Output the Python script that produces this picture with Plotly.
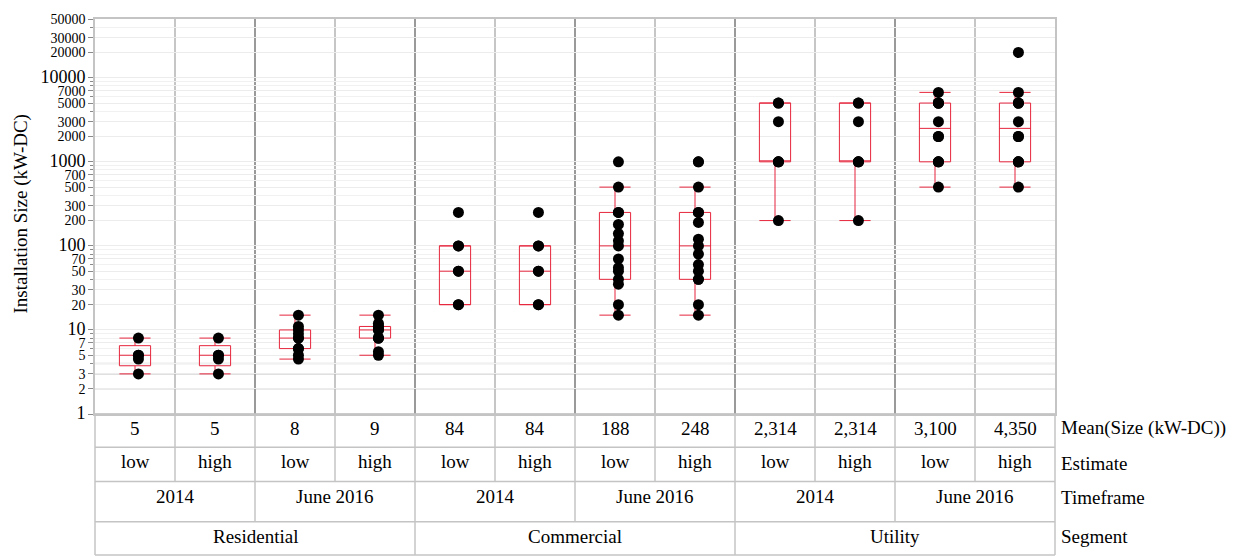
import numpy as np
import plotly.graph_objects as go

# ---- data -------------------------------------------------------------
segments = ["Residential", "Commercial", "Utility"]
timeframes = ["2014", "June 2016"]
estimates = ["low", "high"]

# Installation sizes (kW-DC); per segment: 2014 low, 2014 high, June 2016 low, June 2016 high
residential = [
    [3, 4.5, 5, 5, 8],
    [3, 4.5, 5, 5, 8],
    [4.5, 5, 6, 6, 8, 8, 9, 10, 11, 15],
    [5, 5.5, 8, 8, 8, 10, 10, 11, 11, 12, 15],
]
commercial = [
    [20, 20, 50, 50, 100, 100, 250],
    [20, 20, 50, 50, 100, 100, 250],
    [15, 20, 35, 40, 50, 55, 70, 100, 115, 140, 180, 250, 250, 500, 1000],
    [15, 20, 40, 40, 50, 60, 80, 100, 120, 190, 250, 250, 500, 1000, 1000],
]
utility = [
    [200, 1000, 1000, 1000, 3000, 5000, 5000],
    [200, 1000, 1000, 1000, 3000, 5000, 5000],
    [500, 1000, 1000, 1000, 2000, 2000, 3000, 5000, 5000, 5000, 5000, 6700],
    [500, 1000, 1000, 1000, 2000, 2000, 3000, 5000, 5000, 5000, 6700, 20000],
]

y_tickvals = [1, 2, 3, 5, 7, 10, 20, 30, 50, 70, 100, 200, 300, 500, 700,
              1000, 2000, 3000, 5000, 7000, 10000, 20000, 30000, 50000]
y_minor_tickvals = [4, 6, 8, 9, 40, 60, 80, 90, 400, 600, 800, 900,
                    4000, 6000, 8000, 9000, 40000]
decades = [1, 10, 100, 1000, 10000]
y_max = 50000

# ---- layout constants --------------------------------------------------
W, H = 1238, 557
ML, MR, MT, MB = 95, 183, 16, 143
PH = H - MT - MB
FONT = "Liberation Serif, Times New Roman, DejaVu Serif, serif"
RED = "#E6253C"
TABLE_LINE = "#c4c4c4"


def py(px):
    """pixel row -> paper y"""
    return (MT + PH - px) / PH


def px_x(px):
    """pixel column -> paper x"""
    return (px - ML) / (W - ML - MR)


# ---- assemble columns --------------------------------------------------
groups = [residential, commercial, utility]
xs, ys, col_seg, col_tf, col_est, col_mean = [], [], [], [], [], []
col = 0
for seg, vals in zip(segments, groups):
    k = 0
    for tf in timeframes:
        for est in estimates:
            v = vals[k]
            xs += [col] * len(v)
            ys += v
            col_seg.append(seg)
            col_tf.append(tf)
            col_est.append(est)
            col_mean.append(f"{np.mean(v):,.0f}")
            k += 1
            col += 1
ncol = col

fig = go.Figure()
fig.add_trace(go.Box(
    x=xs, y=ys,
    quartilemethod="exclusive",
    boxpoints="all", jitter=0, pointpos=0.22,
    width=0.39, whiskerwidth=1,
    fillcolor="rgba(0,0,0,0)",
    line=dict(color=RED, width=1),
    marker=dict(color="black", size=11, line=dict(width=0)),
    showlegend=False, hoverinfo="y",
))

shapes = []
# decade gridlines, slightly stronger than the minor grid
for d in decades:
    shapes.append(dict(type="line", xref="paper", yref="y", x0=0, x1=1,
                       y0=np.log10(d), y1=np.log10(d), layer="between",
                       line=dict(color="#d6d6d6", width=1.5)))

# column dividers inside the plot
for b in range(1, ncol):
    major = col_tf[b] != col_tf[b - 1] or col_seg[b] != col_seg[b - 1]
    shapes.append(dict(type="line", xref="x", yref="paper", x0=b - 0.5, x1=b - 0.5,
                       y0=0, y1=1, layer="between",
                       line=dict(color="#9a9a9a" if major else "#b3b3b3",
                                 width=2 if major else 1.5)))

# table below the plot
row_lines = [414, 447.5, 482, 522.5, 556]
for r in row_lines:
    shapes.append(dict(type="line", xref="paper", yref="paper", x0=0, x1=1,
                       y0=py(r), y1=py(r), line=dict(color=TABLE_LINE, width=1.5)))
for edge in (0, 1):
    shapes.append(dict(type="line", xref="paper", yref="paper", x0=edge, x1=edge,
                       y0=py(row_lines[0]), y1=py(row_lines[-1]),
                       line=dict(color=TABLE_LINE, width=1.5)))
for b in range(1, ncol):
    if col_seg[b] != col_seg[b - 1]:
        bottom = row_lines[4]
    elif col_tf[b] != col_tf[b - 1]:
        bottom = row_lines[3]
    else:
        bottom = row_lines[2]
    shapes.append(dict(type="line", xref="x", yref="paper", x0=b - 0.5, x1=b - 0.5,
                       y0=py(row_lines[0]), y1=py(bottom),
                       line=dict(color=TABLE_LINE, width=1.5)))

annotations = []
tfont = dict(family=FONT, size=19, color="black")
for i in range(ncol):
    annotations.append(dict(x=i, y=py(428.5), xref="x", yref="paper", text=col_mean[i],
                            showarrow=False, font=tfont, xanchor="center", yanchor="middle"))
    annotations.append(dict(x=i, y=py(462), xref="x", yref="paper", text=col_est[i],
                            showarrow=False, font=tfont, xanchor="center", yanchor="middle"))
for j in range(0, ncol, 2):
    annotations.append(dict(x=j + 0.5, y=py(497), xref="x", yref="paper", text=col_tf[j],
                            showarrow=False, font=tfont, xanchor="center", yanchor="middle"))
for j in range(0, ncol, 4):
    annotations.append(dict(x=j + 1.5, y=py(537), xref="x", yref="paper", text=col_seg[j],
                            showarrow=False, font=tfont, xanchor="center", yanchor="middle"))

for label, yy in [("Mean(Size (kW-DC))", 428.5), ("Estimate", 463.5),
                  ("Timeframe", 498.5), ("Segment", 537)]:
    annotations.append(dict(x=px_x(1059), y=py(yy), xref="paper", yref="paper", text=label,
                            showarrow=False, font=tfont, xanchor="left", yanchor="middle"))

annotations.append(dict(x=px_x(21), y=py(213), xref="paper", yref="paper",
                        text="Installation Size (kW-DC)", textangle=-90, showarrow=False,
                        font=dict(family=FONT, size=19, color="black"),
                        xanchor="center", yanchor="middle"))

ticktext = [f'<span style="font-size:18px">{v}</span>' if v in decades else str(v)
            for v in y_tickvals]

fig.update_layout(
    width=W, height=H,
    margin=dict(l=ML, r=MR, t=MT, b=MB, pad=0),
    paper_bgcolor="white", plot_bgcolor="white",
    font=dict(family=FONT, color="black"),
    showlegend=False,
    shapes=shapes,
    annotations=annotations,
    xaxis=dict(range=[-0.5, ncol - 0.5], showticklabels=False, showgrid=False,
               zeroline=False, ticks="", showline=True, mirror=True,
               linecolor="#c4c4c4", linewidth=1.5, fixedrange=True),
    yaxis=dict(type="log", range=[0, np.log10(y_max)],
               tickmode="array", tickvals=y_tickvals, ticktext=ticktext,
               tickfont=dict(family=FONT, size=14, color="black"),
               ticks="outside", ticklen=5, tickcolor="#8a8a8a", tickwidth=1,
               showgrid=True, gridcolor="#ececec", gridwidth=1,
               minor=dict(tickmode="array", tickvals=y_minor_tickvals, ticks="outside",
                          ticklen=3, tickcolor="#8a8a8a", showgrid=True,
                          gridcolor="#f1f1f1", gridwidth=1),
               zeroline=False, showline=True, mirror=True,
               linecolor="#c4c4c4", linewidth=1.5, fixedrange=True),
)

fig.write_html("out.html")
